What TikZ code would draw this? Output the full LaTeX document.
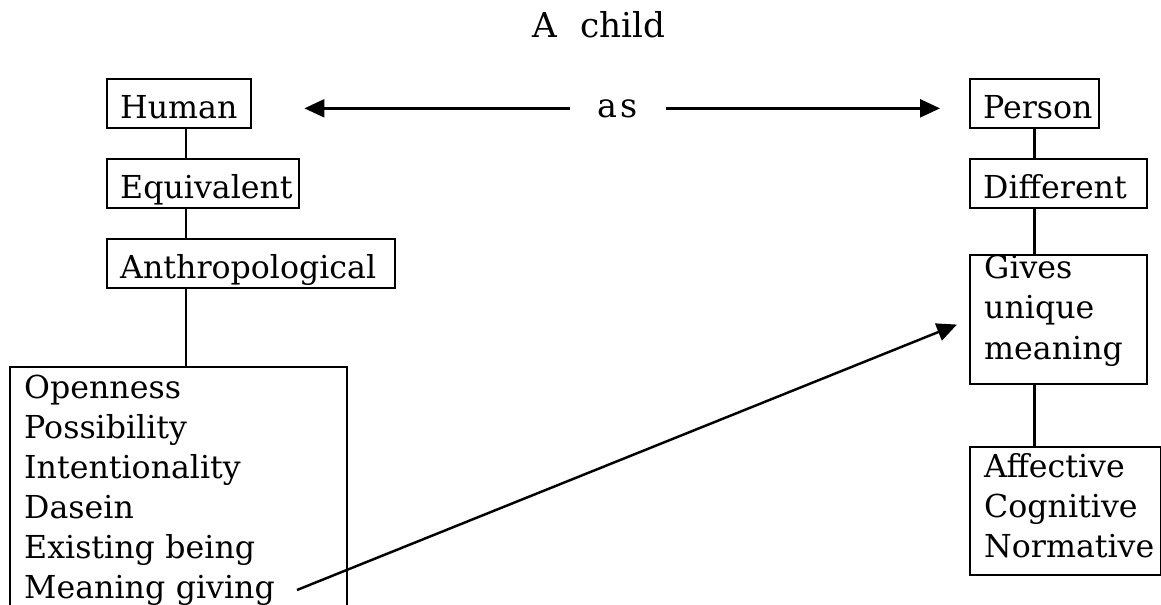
\documentclass[tikz,border=0pt]{standalone}
\usepackage{fontspec}
\setmainfont{DejaVu Serif}
\usetikzlibrary{arrows.meta}

\begin{document}
\begin{tikzpicture}[x=0.02cm, y=-0.02cm,
		lbl/.style={font=\fontsize{18pt}{22.8pt}\selectfont},
		box/.style={lbl, draw, line width=1.4pt, anchor=north west, align=left, inner ysep=0pt, inner xsep=0.26cm, text height=20.7pt, text depth=3.6pt, minimum height=0.98cm, text width=#1},
		listbox/.style={lbl, draw, line width=1.4pt, anchor=north west, align=left, inner ysep=0pt, inner xsep=0.28cm, text width=#1},
		link/.style={line width=1.4pt},
		arr/.style={line width=1.4pt, -{Triangle[length=0.4cm, width=0.36cm]}}]
			%%%%% START %%%%%
			
			\useasboundingbox (0, 0) rectangle (1161, 605);
			
			\node[lbl, font=\fontsize{19.5pt}{24pt}\selectfont, anchor=base] (title) at (599, 37) {A\hspace{0.46cm}child};
			\node[lbl, font=\fontsize{19pt}{24pt}\selectfont, anchor=base, inner xsep=0.55cm] (as) at (618, 117) {a\hspace{0.06cm}s};
			
			\node[box=2.36cm] (human) at (106, 78) {Human};
			\node[box=3.32cm] (equiv) at (106, 158) {Equivalent};
			\node[box=5.24cm] (anthro) at (106, 238) {Anthropological};
			\node[listbox=6.18cm, inner ysep=0.16cm] (traits) at (9, 366) {Openness\\Possibility\\Intentionality\\Dasein\\Existing being\\Meaning giving};
			
			\node[box=2.06cm] (person) at (969, 78) {Person};
			\node[box=3.02cm] (diff) at (969, 158) {Different};
			\node[listbox=2.98cm, minimum height=2.58cm] (gives) at (969, 254) {Gives\\unique\\meaning\rule[-0.5cm]{0pt}{0.1cm}};
			\node[listbox=3.26cm, minimum height=2.56cm] (affect) at (969, 446) {Affective\\Cognitive\\Normative\rule[-0.22cm]{0pt}{0.1cm}};
			
			\coordinate (lspine) at (186, 0);
			\draw[link] (human.south -| lspine) -- (equiv.north -| lspine);
			\draw[link] (equiv.south -| lspine) -- (anthro.north -| lspine);
			\draw[link] (anthro.south -| lspine) -- (traits.north -| lspine);
			
			\draw[link] (person.south) -- (diff.north -| person.south);
			\draw[link] (diff.south -| person.south) -- (gives.north -| person.south);
			\draw[link] (gives.south -| person.south) -- (affect.north -| person.south);
			
			\draw[arr, shorten >=1.04cm] (as.west) -- (as.west -| human.east);
			\draw[arr, shorten >=0.58cm] (as.east) -- (as.east -| person.west);
			
			\coordinate (mg) at (297, 590);
			\draw[arr, shorten >=0.26cm] (mg) -- (gives.west);
			
			%%%%% END %%%%%
		\end{tikzpicture}
\end{document}
